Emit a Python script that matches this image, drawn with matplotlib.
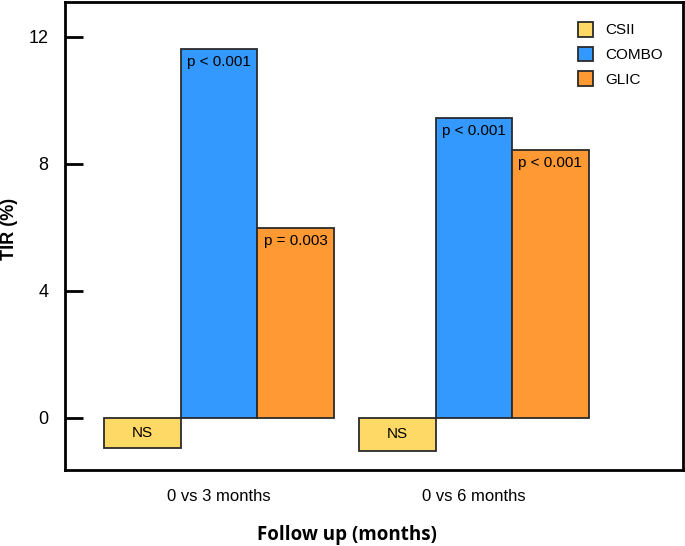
import matplotlib
matplotlib.use("Agg")
import matplotlib.pyplot as plt
import numpy as np

# data
groups = ["0 vs 3 months", "0 vs 6 months"]
series = ["CSII", "COMBO", "GLIC"]
csii = [-0.95, -1.04]
combo = [11.62, 9.45]
glic = [5.98, 8.44]
csii_lab = ["NS", "NS"]
combo_lab = ["p < 0.001", "p < 0.001"]
glic_lab = ["p = 0.003", "p < 0.001"]

colors = ["#FFD966", "#3399FF", "#FF9933"]

plt.rcParams["font.family"] = ["Liberation Sans", "DejaVu Sans"]

fig = plt.figure(figsize=(6.85, 5.46), dpi=100)
ax = fig.add_axes([65 / 685, 1 - 470 / 546, 618 / 685, 468 / 546])

x = np.arange(len(groups))
w = 0.3
vals = [csii, combo, glic]
labs = [csii_lab, combo_lab, glic_lab]
for k, (name, v, lab, c) in enumerate(zip(series, vals, labs, colors)):
    pos = x + (k - 1) * w
    ax.bar(pos, v, width=w, color=c, edgecolor="#2b2b2b", linewidth=1.3, label=name)
    for xi, vi, t in zip(pos, v, lab):
        if vi < 0:
            ax.text(xi, vi / 2, t, ha="center", va="center", fontsize=11)
        else:
            ax.text(xi, vi - 0.2, t, ha="center", va="top", fontsize=11)

ax.set_xlim(-0.604, 1.82)
ax.set_ylim(-1.64, 13.1)
ax.set_yticks([0, 4, 8, 12])
ax.set_xticks(x)
ax.set_xticklabels(groups, fontsize=12)
ax.tick_params(axis="x", length=0, pad=14)
ax.tick_params(axis="y", direction="in", length=13, width=2, labelsize=13, pad=12)
for s in ax.spines.values():
    s.set_linewidth(2)

fig.text(10 / 685, 1 - 229 / 546, "TIR (%)", rotation=90, fontsize=13,
         fontweight="bold", ha="center", va="center")
fig.text(347 / 685, 1 - 535 / 546, "Follow up (months)", fontsize=13.5,
         fontweight="bold", family=["Open Sans", "DejaVu Sans"],
         ha="center", va="center")

leg = ax.legend(loc="upper right", frameon=False, fontsize=11,
                handlelength=1.0, handleheight=1.1, handletextpad=0.8,
                labelspacing=0.6, borderaxespad=0.9)

fig.savefig("out.png", dpi=100)
